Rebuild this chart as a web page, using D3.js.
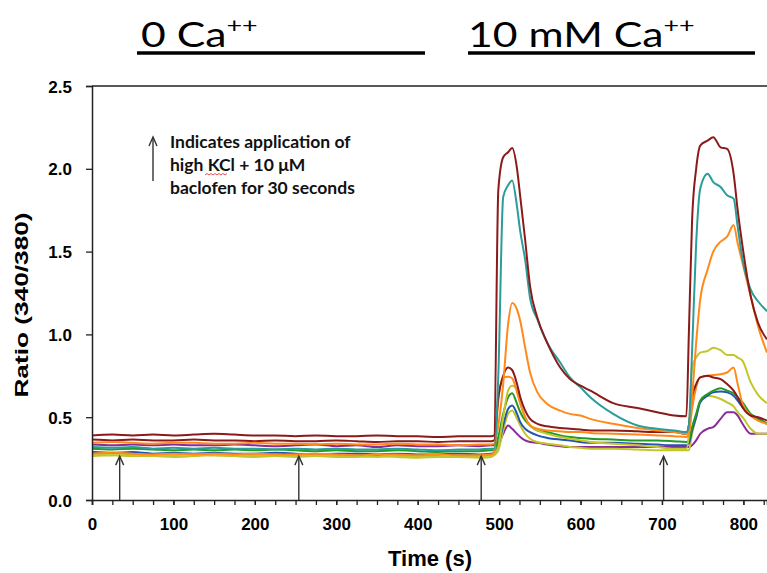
<!DOCTYPE html>
<html>
<head>
<meta charset="utf-8">
<script src="https://cdn.jsdelivr.net/npm/d3@7"></script>
<style>
	body { margin: 0; background: #fff; }
	.tick text { font-family: "Liberation Sans", Arial, sans-serif; font-weight: bold; font-size: 17px; fill: #000; }
	.axes-text { font-family: "Liberation Sans", Arial, sans-serif; font-weight: bold; fill: #000; }
	.note { font-family: Lato, "Open Sans", sans-serif; font-weight: bold; font-size: 17.5px; fill: #111; }
	.cond { font-family: Lato, "Open Sans", sans-serif; font-size: 35px; fill: #000; }
</style>
</head>
<body>
<div id="container"></div>
<script>
// time (s) shared by every trace
const times = [0,25,50,75,100,125,150,175,200,225,250,275,300,325,350,375,400,425,450,475,
	490,494,499,505,511,516,522,526,532,538,547,559,575,587,600,612,640,670,694,715,730,
	733,737,742,747,756,763,772,780,788,793,799,809,818,829];

const purple = [0.335,0.33,0.335,0.33,0.335,0.33,0.33,0.335,0.33,0.325,0.33,0.335,0.325,0.33,0.32,0.33,0.325,0.325,0.33,0.325,
	0.33,0.33,0.34,0.40,0.45,0.43,0.40,0.38,0.36,0.35,0.345,0.335,0.325,0.32,0.32,0.32,0.32,0.32,0.32,0.32,0.32,
	0.32,0.33,0.36,0.40,0.43,0.44,0.49,0.53,0.53,0.51,0.46,0.40,0.40,0.40];
const yellowB = [0.265,0.27,0.265,0.265,0.26,0.265,0.27,0.265,0.26,0.265,0.26,0.265,0.26,0.26,0.265,0.26,0.255,0.26,0.26,0.255,
	0.26,0.27,0.30,0.42,0.52,0.54,0.49,0.45,0.40,0.37,0.35,0.34,0.33,0.32,0.315,0.31,0.31,0.305,0.30,0.30,0.30,
	0.30,0.40,0.50,0.60,0.63,0.625,0.61,0.59,0.565,0.53,0.50,0.43,0.40,0.40];
const blue = [0.29,0.285,0.29,0.28,0.285,0.28,0.285,0.28,0.28,0.285,0.28,0.275,0.28,0.28,0.275,0.28,0.275,0.275,0.28,0.275,
	0.28,0.285,0.33,0.45,0.55,0.57,0.52,0.47,0.43,0.41,0.39,0.375,0.365,0.36,0.35,0.345,0.345,0.34,0.335,0.33,0.33,
	0.34,0.42,0.50,0.59,0.63,0.65,0.655,0.65,0.63,0.60,0.56,0.51,0.49,0.46];
const green = [0.31,0.305,0.31,0.305,0.30,0.305,0.30,0.305,0.30,0.305,0.30,0.295,0.30,0.295,0.295,0.30,0.295,0.29,0.295,0.295,
	0.30,0.30,0.38,0.52,0.62,0.645,0.58,0.53,0.48,0.45,0.42,0.41,0.39,0.38,0.375,0.37,0.365,0.36,0.36,0.355,0.35,
	0.36,0.44,0.52,0.60,0.64,0.66,0.675,0.66,0.645,0.62,0.59,0.52,0.495,0.46];
const yellowA = [0.275,0.27,0.275,0.27,0.27,0.275,0.27,0.265,0.27,0.27,0.265,0.27,0.265,0.265,0.26,0.265,0.265,0.26,0.265,0.265,
	0.27,0.28,0.32,0.50,0.66,0.69,0.67,0.59,0.50,0.45,0.42,0.40,0.38,0.37,0.36,0.35,0.34,0.33,0.32,0.31,0.31,
	0.40,0.80,0.86,0.89,0.90,0.92,0.905,0.875,0.875,0.86,0.84,0.71,0.635,0.585];
const orangeB = [0.28,0.285,0.28,0.275,0.28,0.275,0.28,0.275,0.28,0.275,0.275,0.28,0.275,0.27,0.275,0.275,0.27,0.275,0.27,0.27,
	0.275,0.29,0.60,0.74,0.745,0.735,0.65,0.58,0.50,0.45,0.43,0.42,0.415,0.41,0.41,0.405,0.40,0.395,0.39,0.385,0.38,
	0.40,0.55,0.68,0.74,0.75,0.755,0.76,0.77,0.80,0.70,0.58,0.51,0.48,0.46];
const darkRedB = [0.365,0.36,0.365,0.36,0.36,0.365,0.36,0.36,0.355,0.36,0.355,0.355,0.36,0.355,0.35,0.355,0.355,0.35,0.355,0.355,
	0.355,0.36,0.62,0.75,0.80,0.785,0.70,0.62,0.54,0.49,0.46,0.445,0.435,0.43,0.425,0.42,0.42,0.415,0.41,0.41,0.40,
	0.45,0.62,0.70,0.74,0.75,0.74,0.73,0.70,0.66,0.62,0.56,0.51,0.50,0.48];
const orangeA = [0.345,0.35,0.345,0.34,0.345,0.345,0.34,0.34,0.345,0.34,0.34,0.335,0.34,0.335,0.335,0.34,0.335,0.335,0.33,0.335,
	0.335,0.34,0.45,0.70,1.06,1.19,1.15,1.08,0.92,0.77,0.65,0.58,0.54,0.52,0.51,0.49,0.46,0.435,0.42,0.41,0.40,
	0.41,0.62,0.95,1.21,1.39,1.50,1.56,1.59,1.66,1.55,1.43,1.23,1.05,0.89];
const teal = [0.32,0.315,0.32,0.31,0.315,0.31,0.315,0.31,0.31,0.305,0.31,0.305,0.31,0.305,0.305,0.31,0.305,0.30,0.305,0.305,
	0.31,0.31,0.75,1.83,1.90,1.93,1.77,1.62,1.45,1.22,1.09,0.95,0.83,0.74,0.68,0.62,0.52,0.45,0.43,0.42,0.41,
	0.45,0.90,1.55,1.88,1.97,1.92,1.89,1.84,1.82,1.65,1.45,1.27,1.20,1.14];
const darkRedA = [0.39,0.395,0.39,0.395,0.39,0.395,0.40,0.395,0.39,0.39,0.385,0.39,0.385,0.385,0.39,0.385,0.385,0.38,0.385,0.385,
	0.385,0.39,1.87,2.07,2.10,2.125,2.00,1.83,1.57,1.29,1.10,0.95,0.80,0.73,0.69,0.66,0.585,0.555,0.53,0.51,0.505,
	1.00,1.69,2.00,2.14,2.17,2.19,2.13,2.12,1.97,1.75,1.53,1.23,1.07,0.97];

// drawing order, bottom first
const traces = [purple, yellowB, blue, green, yellowA, orangeB, darkRedB, orangeA, teal, darkRedA];
const colors = ["#8a2b9b", "#c3c62b", "#2255b0", "#239a23", "#c3c62b", "#ff8a1c", "#8b1a1a", "#ff8a1c", "#2a9d9a", "#8b1a1a"];

// KCl + baclofen applications
const arrowTimes = [34, 254, 478, 702];
const arrowTop = 0.265;

const yTicks = [0, 0.5, 1.0, 1.5, 2.0, 2.5];
const xTicks = [0, 100, 200, 300, 400, 500, 600, 700, 800];
const xMinor = d3.range(0, 830, 25);

const w = 767;
const h = 573;
const margin = {top: 86, left: 92, bottom: 73, right: 0};

const svg = d3.select("#container").append("svg").attr("width", w).attr("height", h);

const xScale = d3.scaleLinear().domain([0, 829]).range([margin.left, w - margin.right]);
const yScale = d3.scaleLinear().domain([0, 2.5]).range([h - margin.bottom, margin.top]);

svg.append("clipPath").attr("id", "plot")
	.append("rect")
	.attr("x", margin.left).attr("y", margin.top)
	.attr("width", w - margin.left).attr("height", h - margin.bottom - margin.top);

// traces
const line = d3.line()
	.x((d, i) => xScale(times[i]))
	.y(d => yScale(d))
	.curve(d3.curveMonotoneX);

svg.append("g").attr("clip-path", "url(#plot)")
	.selectAll("path")
	.data(traces)
	.enter()
	.append("path")
		.attr("d", line)
		.attr("fill", "none")
		.attr("stroke", (d, i) => colors[i])
		.attr("stroke-width", 2)
		.attr("stroke-linejoin", "round");

// top frame line
svg.append("line")
	.attr("x1", xScale(0)).attr("x2", w)
	.attr("y1", yScale(2.5)).attr("y2", yScale(2.5))
	.attr("stroke", "#222").attr("stroke-width", 1.3);

// axes
const xAxisMinor = d3.axisBottom(xScale).tickValues(xMinor).tickSize(5).tickFormat("");
const xAxis = d3.axisBottom(xScale).tickValues(xTicks).tickSize(5).tickPadding(13).tickFormat(d3.format("d"));
const yAxis = d3.axisLeft(yScale).tickValues(yTicks).tickSize(6).tickPadding(14).tickFormat(d3.format(".1f"));

svg.append("g").attr("transform", `translate(0, ${yScale(0)})`).call(xAxisMinor)
	.call(g => g.select(".domain").remove());
const xAxisGroup = svg.append("g").attr("transform", `translate(0, ${yScale(0)})`).call(xAxis);
const yAxisGroup = svg.append("g").attr("transform", `translate(${xScale(0)}, 0)`).call(yAxis);

svg.selectAll(".domain").attr("stroke", "#222").attr("stroke-width", 1.5);
svg.selectAll(".tick line").attr("stroke", "#222").attr("stroke-width", 1.3);
xAxisGroup.selectAll(".tick text").attr("dy", "0.71em");
yAxisGroup.selectAll(".tick text").attr("dy", "0.36em");

// application arrows
function arrow(g, x, y1, y2) {
	g.append("line").attr("x1", x).attr("x2", x).attr("y1", y1).attr("y2", y2)
		.attr("stroke", "#333").attr("stroke-width", 1.4);
	g.append("path")
		.attr("d", `M${x - 4},${y2 + 9} L${x},${y2} L${x + 4},${y2 + 9}`)
		.attr("fill", "none").attr("stroke", "#333").attr("stroke-width", 1.4);
}
const arrows = svg.append("g");
arrowTimes.forEach(t => arrow(arrows, xScale(t), yScale(0), yScale(arrowTop)));

// note
arrow(svg, 153, 181, 137);
const note = svg.append("text").attr("class", "note");
note.append("tspan").attr("x", 170).attr("y", 148).text("Indicates application of");
note.append("tspan").attr("x", 170).attr("y", 171).text("high KCl + 10 \u03BCM");
note.append("tspan").attr("x", 170).attr("y", 194).text("baclofen for 30 seconds");
svg.append("path")
	.attr("d", "M205,175 l2,-1.5 l2,1.5 l2,-1.5 l2,1.5 l2,-1.5 l2,1.5 l2,-1.5 l2,1.5 l2,-1.5 l2,1.5 l2,-1.5")
	.attr("fill", "none").attr("stroke", "#e05050").attr("stroke-width", 1);

// calcium conditions
function condition(x, y, label, x1, x2) {
	const t = svg.append("text").attr("class", "cond")
		.attr("transform", `translate(${x}, ${y}) scale(1.22, 1)`);
	t.append("tspan").text(label);
	t.append("tspan").attr("font-size", "22px").attr("dy", -14).text("++");
	svg.append("line").attr("x1", x1).attr("x2", x2).attr("y1", 53).attr("y2", 53)
		.attr("stroke", "#000").attr("stroke-width", 3.5);
}
condition(141, 47, "0 Ca", 137, 425);
condition(468, 47, "10 mM Ca", 468, 755);

// axis titles
svg.append("text")
	.attr("class", "axes-text")
	.attr("transform", `translate(28, 305) rotate(-90) scale(1.5, 1)`)
	.attr("text-anchor", "middle")
	.attr("font-size", "17.5px")
	.text("Ratio (340/380)");

svg.append("text")
	.attr("class", "axes-text")
	.attr("x", 430)
	.attr("y", 566)
	.attr("text-anchor", "middle")
	.attr("font-size", "22px")
	.text("Time (s)");
</script>
</body>
</html>
